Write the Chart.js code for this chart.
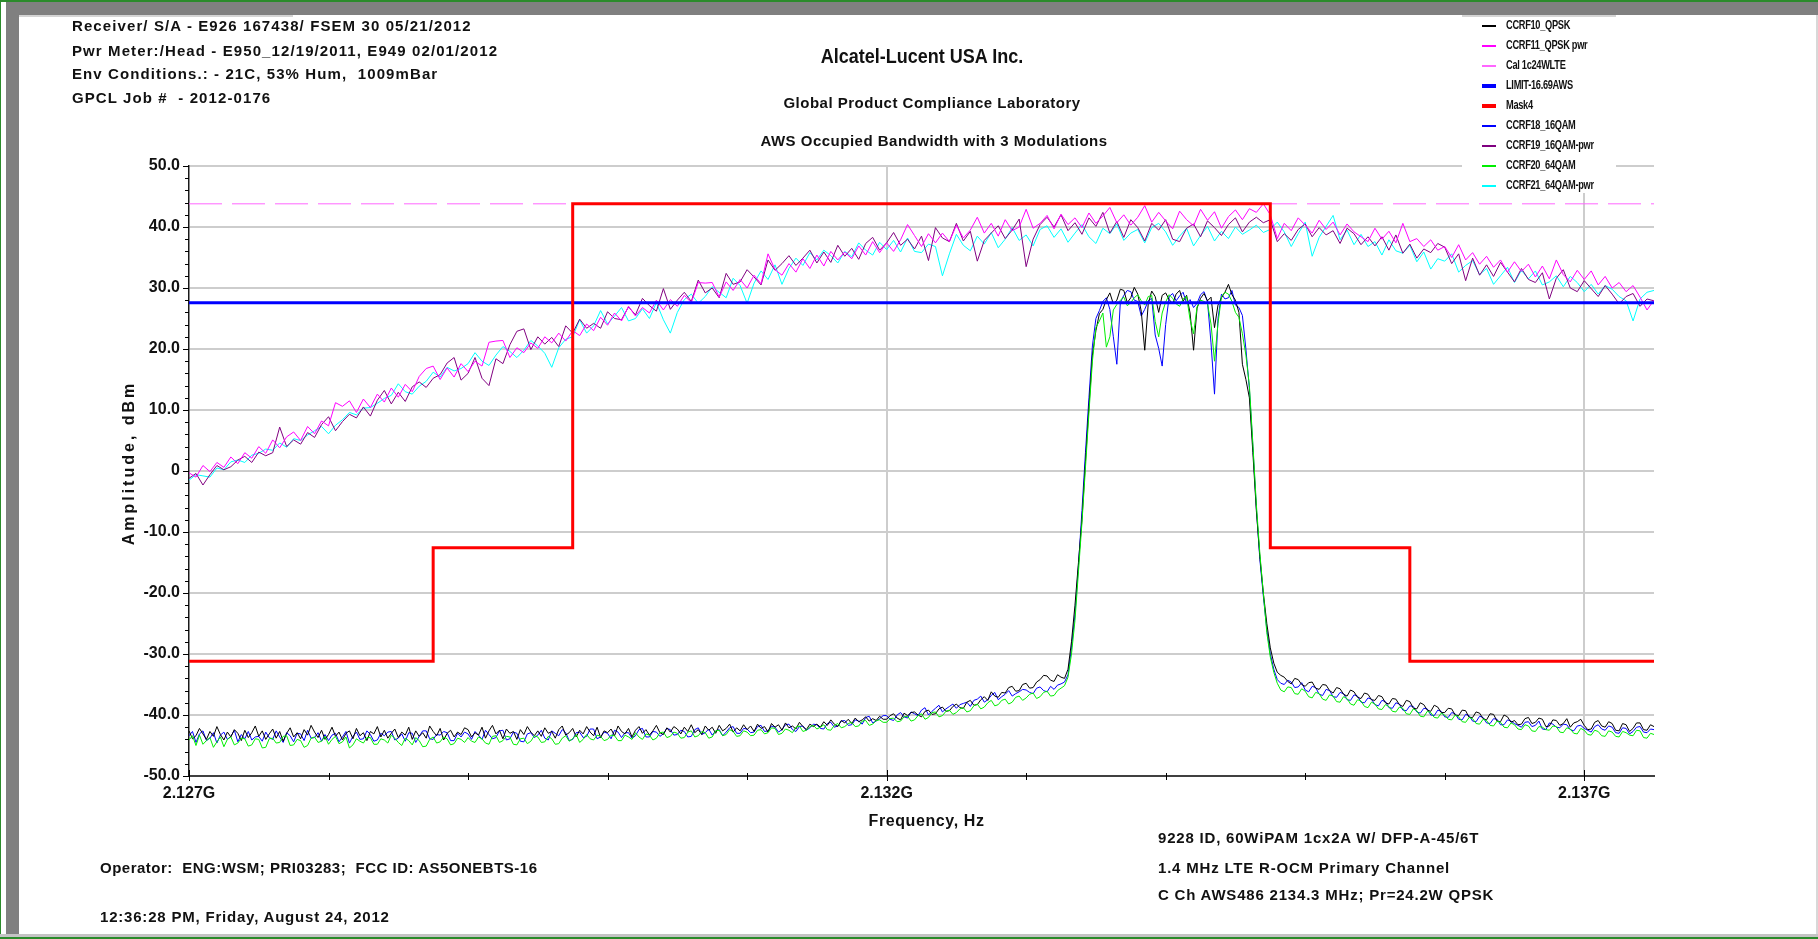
<!DOCTYPE html>
<html>
<head>
<meta charset="utf-8">
<script src="https://cdn.jsdelivr.net/npm/chart.js@4.4.1/dist/chart.umd.min.js"></script>
<style>
  html, body { margin: 0; padding: 0; background: #fff; }
  #page { position: relative; width: 1818px; height: 939px; overflow: hidden; background: #fff; }
  #plot { position: absolute; left: 0; top: 0; }
  .bar { position: absolute; }
  .txt { position: absolute; white-space: pre; line-height: 1; color: #111;
         font-family: "Liberation Sans", Arial, sans-serif; font-weight: bold; font-size: 15px; }
  .hdr { letter-spacing: 1.1px; }
  .ftr { letter-spacing: 0.8px; }
  .ctr { transform: translateX(-50%); letter-spacing: 0.5px; }
  .big { font-size: 20px; letter-spacing: 0; transform: translateX(-50%) scaleX(0.9); }
</style>
</head>
<body>
<div id="page">
  <canvas id="plot" width="1818" height="939"></canvas>

  <!-- window frame -->
  <div class="bar" style="left:0;top:0;width:1818px;height:2px;background:#2b8b2b"></div>
  <div class="bar" style="left:0;top:0;width:1px;height:939px;background:#2b8b2b"></div>
  <div class="bar" style="left:6px;top:2px;width:1812px;height:13px;background:#808080"></div>
  <div class="bar" style="left:6px;top:2px;width:13px;height:933px;background:#808080"></div>
  <div class="bar" style="left:19px;top:15px;width:274px;height:2px;background:#d4d4d4"></div>
  <div class="bar" style="left:1462px;top:15px;width:154px;height:2px;background:#d4d4d4"></div>
  <div class="bar" style="left:1816px;top:15px;width:2px;height:920px;background:#d8d8d8"></div>
  <div class="bar" style="left:0;top:934px;width:1818px;height:3px;background:#c4c4c4"></div>
  <div class="bar" style="left:0;top:937px;width:1818px;height:2px;background:#2b8b2b"></div>

  <!-- test set-up notes -->
  <div class="txt hdr" style="left:72px;top:18px">Receiver/ S/A - E926 167438/ FSEM 30 05/21/2012</div>
  <div class="txt hdr" style="left:72px;top:43px">Pwr Meter:/Head - E950_12/19/2011, E949 02/01/2012</div>
  <div class="txt hdr" style="left:72px;top:66px">Env Conditions.: - 21C, 53% Hum,  1009mBar</div>
  <div class="txt hdr" style="left:72px;top:90px">GPCL Job #  - 2012-0176</div>

  <div class="txt big" style="left:922px;top:46px">Alcatel-Lucent USA Inc.</div>
  <div class="txt ctr" style="left:932px;top:95px">Global Product Compliance Laboratory</div>
  <div class="txt ctr" style="left:934px;top:133px">AWS Occupied Bandwidth with 3 Modulations</div>

  <div class="txt ftr" style="left:1158px;top:830px">9228 ID, 60WiPAM 1cx2A W/ DFP-A-45/6T</div>
  <div class="txt ftr" style="left:1158px;top:860px">1.4 MHz LTE R-OCM Primary Channel</div>
  <div class="txt ftr" style="left:1158px;top:887px">C Ch AWS486 2134.3 MHz; Pr=24.2W QPSK</div>

  <div class="txt ftr" style="left:100px;top:860px;letter-spacing:0.5px">Operator:  ENG:WSM; PRI03283;  FCC ID: AS5ONEBTS-16</div>
  <div class="txt ftr" style="left:100px;top:909px">12:36:28 PM, Friday, August 24, 2012</div>
</div>

<script>
// Sweep grid (MHz)
const SWEEP_START_MHZ = 2127;
const SWEEP_STOP_MHZ = 2137.5;
const TRACE_STEP_MHZ = 0.025;
const POWER_STEP_MHZ = 0.05;

// Axis labelling
const xLabelFreqsMHz = [2127, 2132, 2137];
const xTickLabels = ['2.127G', '2.132G', '2.137G'];
const yMin = -50, yMax = 50, yMajorStep = 10, yMinorStep = 2;

// Spectrum traces, dBm, one value per TRACE_STEP_MHZ
const qpskTrace = [
  -42.6, -43.9, -43.4, -42.2, -43.1, -44.0, -42.7, -43.5, -41.9, -43.2, -44.1, -42.8, -43.6, -42.4, -43.0, -44.2, -42.5, -43.7, -42.9, -41.8,
  -43.5, -42.6, -44.0, -43.1, -42.3, -43.8, -42.7, -44.3, -43.0, -42.1, -43.6, -42.9, -43.9, -42.4, -43.3, -41.7, -42.8, -43.7, -42.5, -44.0,
  -43.2, -42.0, -43.5, -42.8, -44.1, -43.0, -42.6, -43.9, -42.2, -43.4, -42.9, -44.2, -42.7, -43.1, -41.9, -43.6, -42.5, -43.8, -43.0, -42.3,
  -43.7, -42.8, -43.3, -42.0, -44.0, -42.6, -43.5, -42.9, -43.8, -41.8, -42.7, -43.4, -42.2, -44.1, -43.0, -42.5, -43.6, -42.8, -43.2, -42.1,
  -42.4, -43.6, -42.9, -43.3, -42.0, -43.8, -42.6, -41.7, -43.1, -42.5, -43.9, -42.3, -43.0, -42.7, -44.0, -42.4, -43.2, -41.9, -42.8, -43.4,
  -42.6, -43.5, -42.1, -43.0, -42.7, -43.8, -42.4, -41.8, -43.3, -42.9, -42.2, -43.6, -42.5, -43.1, -41.9, -42.8, -43.4, -42.0, -43.7, -42.6,
  -42.9, -42.3, -43.4, -41.8, -42.7, -43.1, -42.2, -43.6, -42.5, -41.9, -43.0, -42.4, -43.3, -42.6, -41.7, -42.9, -43.2, -42.1, -42.8, -41.9,
  -42.3, -43.1, -42.0, -42.7, -41.6, -42.9, -42.4, -43.2, -41.8, -42.5, -42.0, -43.0, -41.7, -42.6, -42.2, -41.5, -42.8, -42.1, -42.6, -41.6,
  -42.4, -41.8, -42.7, -41.5, -42.2, -41.9, -42.8, -41.4, -42.0, -41.6, -42.5, -41.3, -42.1, -41.8, -42.3, -41.2, -41.9, -42.4, -41.5, -41.9,
  -41.5, -42.0, -41.1, -41.7, -40.8, -41.5, -41.9, -40.9, -41.3, -40.7, -41.4, -40.5, -41.1, -40.8, -40.3, -41.0, -40.6, -40.9, -40.2, -40.7,
  -40.7, -40.1, -39.8, -40.5, -40.8, -39.7, -40.1, -39.6, -39.5, -40.0, -40.3, -39.4, -39.2, -39.9, -39.8, -39.0, -38.7, -39.4, -39.3, -38.6,
  -38.2, -38.8, -38.9, -37.9, -37.6, -38.4, -38.3, -37.5, -37.0, -37.6, -36.2, -36.9, -37.1, -36.3, -36.4, -35.5, -35.3, -36.1, -36.0, -35.0,
  -34.8, -35.6, -35.5, -34.6, -34.2, -33.5, -33.6, -34.3, -34.5, -33.4, -33.8, -34.0, -32.5, -28.0, -22.0, -15.0, -8.0, 1.5, 10.5, 19.0,
  23.0, 25.8, 26.5, 28.1, 29.2, 27.4, 28.0, 29.8, 29.6, 27.6, 28.4, 30.1, 29.0, 26.2, 19.8, 27.4, 29.5, 28.6, 26.0, 28.8,
  29.2, 28.1, 27.4, 29.0, 29.6, 27.8, 28.8, 25.9, 19.8, 26.7, 28.3, 29.1, 27.9, 28.5, 23.5, 27.2, 28.4, 29.3, 30.6, 28.9,
  28.0, 26.0, 17.5, 15.0, 12.0, 3.0, -6.5, -14.0, -20.0, -25.0, -29.0, -31.5, -33.0, -33.5, -33.8, -34.5, -34.9, -34.0, -34.2, -35.0,
  -35.3, -34.7, -34.6, -35.6, -35.8, -35.0, -35.1, -36.0, -36.4, -35.5, -35.7, -36.6, -36.9, -35.9, -36.2, -37.1, -37.3, -36.4, -36.6, -37.5,
  -37.6, -36.8, -37.0, -38.0, -38.2, -37.3, -37.4, -38.3, -38.6, -37.6, -37.8, -38.9, -39.0, -38.0, -38.3, -39.2, -39.4, -38.4, -38.7, -39.6,
  -39.6, -38.9, -39.0, -40.0, -40.1, -39.2, -39.3, -40.4, -40.4, -39.5, -39.7, -40.6, -40.8, -39.8, -39.9, -41.0, -41.1, -40.0, -40.3, -41.2,
  -40.9, -41.6, -41.5, -40.6, -40.4, -41.4, -41.2, -40.5, -40.7, -41.9, -41.8, -40.8, -40.9, -41.7, -41.4, -40.6, -42.0, -41.3, -41.1, -40.7,
  -41.7, -42.4, -42.3, -41.2, -40.9, -41.8, -42.0, -41.1, -41.4, -42.5, -42.6, -41.4, -41.6, -42.7, -42.2, -41.3, -41.3, -42.4, -42.5, -41.6,
  -41.9
];

const qam16Trace = [
  -43.4, -42.7, -44.5, -43.1, -42.6, -44.2, -43.8, -42.9, -44.6, -43.3, -42.8, -44.0, -43.5, -42.5, -44.4, -43.2, -43.9, -42.7, -44.1, -43.6,
  -43.5, -44.3, -42.8, -43.7, -44.0, -42.6, -43.6, -44.5, -42.9, -43.4, -44.4, -43.0, -43.1, -44.2, -42.5, -43.8, -43.7, -42.9, -44.3, -43.2,
  -44.2, -43.3, -43.0, -44.4, -43.6, -42.7, -44.6, -43.5, -42.8, -44.0, -43.9, -42.6, -43.2, -44.3, -44.1, -43.0, -43.4, -42.8, -42.7, -44.1,
  -43.8, -43.1, -44.3, -42.9, -43.0, -44.5, -43.5, -42.6, -42.6, -43.9, -44.0, -43.2, -43.3, -42.7, -42.9, -44.2, -44.2, -43.0, -43.6, -42.8,
  -43.1, -44.0, -42.7, -43.3, -44.0, -42.5, -43.2, -43.9, -43.7, -42.6, -42.5, -44.1, -43.9, -42.8, -43.0, -44.3, -44.4, -43.1, -42.9, -43.7,
  -43.3, -42.5, -43.8, -44.1, -42.6, -43.0, -43.4, -42.4, -42.9, -44.2, -44.0, -42.9, -42.8, -43.7, -43.5, -42.3, -42.3, -43.9, -43.6, -42.8,
  -43.0, -43.9, -42.5, -42.8, -43.7, -42.9, -42.9, -43.8, -43.4, -42.4, -42.2, -43.6, -43.6, -42.7, -42.8, -43.5, -43.1, -42.2, -42.4, -43.3,
  -43.2, -42.5, -42.7, -43.6, -43.5, -42.4, -42.1, -43.2, -42.9, -42.3, -43.3, -42.6, -42.4, -43.4, -42.8, -42.1, -41.9, -43.0, -43.0, -42.2,
  -42.3, -42.9, -42.8, -41.9, -41.7, -42.7, -42.6, -41.8, -42.0, -42.8, -42.4, -41.6, -41.5, -42.4, -42.7, -41.9, -41.8, -42.5, -42.1, -41.5,
  -41.6, -42.2, -42.3, -41.4, -41.2, -42.0, -41.8, -41.0, -40.9, -41.7, -41.6, -40.8, -41.0, -41.5, -40.4, -40.2, -41.3, -41.0, -40.6, -40.1,
  -40.1, -40.7, -40.9, -40.0, -39.6, -40.3, -40.5, -39.5, -39.8, -40.1, -39.2, -38.8, -40.0, -39.4, -38.9, -38.4, -39.5, -39.0, -38.6, -38.2,
  -38.9, -38.3, -38.1, -37.9, -38.6, -37.6, -37.4, -36.9, -37.9, -37.5, -36.8, -36.3, -37.5, -37.0, -36.6, -36.0, -36.9, -36.5, -36.2, -35.8,
  -35.9, -36.3, -36.5, -35.6, -35.4, -36.0, -36.2, -35.3, -35.8, -35.1, -34.9, -34.6, -33.4, -29.0, -23.5, -15.5, -6.5, 3.0, 12.0, 20.5,
  25.0, 26.3, 27.8, 28.4, 26.5, 22.0, 17.5, 27.6, 28.8, 29.6, 29.4, 28.0, 27.8, 25.4, 26.5, 27.9, 28.3, 22.3, 20.1, 17.2,
  24.0, 28.6, 29.1, 27.9, 28.7, 29.3, 27.5, 28.1, 26.8, 27.5, 28.9, 29.4, 27.7, 21.0, 12.6, 25.0, 29.0, 28.2, 28.4, 29.6,
  27.2, 26.8, 25.5, 20.0, 13.5, 4.0, -6.0, -14.5, -20.5, -26.0, -30.0, -32.5, -34.2, -34.8, -35.0, -34.3, -34.6, -35.5, -35.4, -34.7,
  -35.9, -36.2, -35.3, -35.5, -36.6, -36.8, -35.8, -36.0, -37.0, -37.1, -36.3, -36.5, -37.5, -37.6, -36.7, -36.9, -37.9, -38.0, -37.2, -37.4,
  -38.3, -38.5, -37.6, -37.8, -38.8, -38.9, -38.0, -38.2, -39.2, -39.3, -38.5, -38.6, -39.5, -39.7, -38.9, -39.0, -40.0, -40.1, -39.2, -39.4,
  -40.3, -40.4, -39.6, -39.8, -40.7, -40.8, -39.9, -40.1, -41.0, -41.1, -40.2, -40.4, -41.3, -41.4, -40.6, -40.7, -41.6, -41.6, -40.8, -41.0,
  -41.4, -41.7, -42.0, -41.2, -41.1, -41.9, -41.7, -41.0, -42.3, -42.4, -41.3, -41.5, -42.0, -42.1, -41.5, -41.6, -42.4, -42.6, -41.8, -41.7,
  -42.2, -42.5, -42.8, -41.9, -41.6, -42.3, -42.5, -41.8, -42.0, -42.9, -43.0, -42.1, -42.2, -43.1, -42.7, -42.0, -41.9, -42.8, -42.9, -42.3,
  -42.4
];

const qam64Trace = [
  -44.1, -43.4, -45.0, -43.3, -44.8, -44.2, -43.7, -45.3, -44.4, -43.6, -45.2, -44.0, -43.6, -44.9, -44.6, -43.8, -43.9, -45.1, -44.9, -43.9,
  -44.0, -45.4, -45.3, -43.9, -43.8, -44.6, -44.5, -43.5, -43.4, -45.0, -44.9, -44.0, -44.2, -45.3, -45.0, -43.8, -43.6, -44.5, -44.3, -43.5,
  -44.8, -44.0, -43.5, -44.7, -44.4, -43.6, -45.4, -44.9, -43.9, -44.3, -44.6, -43.7, -43.7, -44.8, -44.8, -43.9, -44.1, -44.6, -43.3, -43.8,
  -44.5, -45.0, -43.8, -44.2, -44.9, -43.7, -44.2, -45.2, -45.1, -44.0, -43.6, -44.6, -44.4, -43.6, -43.9, -44.9, -44.7, -43.8, -44.0, -44.5,
  -43.7, -44.3, -44.5, -43.6, -43.9, -44.6, -44.8, -43.5, -43.4, -44.5, -44.2, -43.5, -43.6, -44.8, -44.9, -43.9, -43.8, -44.7, -44.3, -43.4,
  -43.6, -44.5, -44.4, -43.5, -43.9, -44.8, -44.7, -43.8, -43.4, -44.3, -43.9, -43.2, -44.5, -44.0, -43.2, -43.9, -44.1, -43.3, -43.5, -44.2,
  -44.0, -43.3, -43.4, -44.2, -44.2, -43.3, -43.6, -44.0, -42.9, -43.6, -44.0, -43.1, -43.3, -44.1, -43.8, -42.9, -42.8, -43.7, -43.5, -42.8,
  -43.0, -43.8, -43.7, -42.8, -42.6, -43.6, -43.4, -42.7, -42.9, -43.8, -43.6, -42.6, -42.5, -43.4, -43.2, -42.4, -42.7, -43.5, -43.4, -42.6,
  -42.8, -43.4, -43.3, -42.5, -42.4, -43.1, -42.9, -42.1, -42.2, -43.2, -43.0, -42.3, -42.5, -42.9, -42.0, -41.8, -42.7, -42.5, -41.9, -41.7,
  -42.3, -42.0, -41.6, -42.4, -42.5, -41.7, -41.4, -42.1, -41.9, -41.4, -41.2, -41.9, -41.8, -41.0, -40.9, -41.7, -41.5, -40.9, -40.8, -41.2,
  -41.2, -40.6, -40.5, -41.1, -41.0, -40.3, -40.2, -41.0, -40.8, -40.1, -39.8, -40.7, -40.4, -39.6, -39.5, -40.3, -40.1, -39.4, -39.2, -39.9,
  -39.6, -39.0, -38.8, -39.5, -39.3, -38.5, -38.2, -39.0, -38.7, -38.0, -37.6, -38.5, -38.3, -37.6, -37.4, -38.2, -37.9, -37.1, -36.9, -37.6,
  -37.2, -36.6, -36.4, -37.3, -37.0, -36.3, -36.1, -36.9, -36.8, -36.0, -35.6, -35.2, -33.8, -30.0, -24.5, -16.5, -8.5, 0.5, 9.5, 18.0,
  23.5, 24.6, 25.9, 20.3, 22.0, 26.4, 27.3, 28.0, 28.5, 27.1, 27.6, 28.4, 28.9, 27.9, 27.2, 28.6, 28.8, 24.5, 22.0, 25.9,
  27.7, 28.9, 28.3, 27.4, 27.0, 28.2, 28.6, 24.8, 22.5, 26.9, 28.0, 27.8, 27.4, 24.1, 18.0, 24.2, 28.6, 29.3, 29.0, 27.8,
  26.0, 25.2, 22.5, 19.0, 14.0, 4.5, -5.5, -13.5, -20.0, -26.5, -30.5, -33.0, -34.8, -35.9, -36.2, -35.4, -35.5, -36.5, -36.6, -35.7,
  -36.1, -37.0, -37.2, -36.3, -36.5, -37.4, -37.6, -36.7, -36.9, -37.8, -37.9, -37.0, -37.3, -38.2, -38.4, -37.5, -37.7, -38.6, -38.8, -37.9,
  -38.2, -39.0, -39.1, -38.3, -38.6, -39.4, -39.5, -38.7, -38.9, -39.8, -39.9, -39.0, -39.3, -40.2, -40.3, -39.4, -39.6, -40.4, -40.5, -39.7,
  -40.0, -40.7, -40.8, -40.0, -40.3, -41.1, -41.2, -40.4, -40.6, -41.4, -41.5, -40.7, -40.9, -41.7, -41.8, -41.0, -41.2, -42.0, -42.1, -41.3,
  -41.6, -42.3, -42.4, -41.6, -41.8, -42.6, -42.7, -41.9, -42.0, -42.4, -42.5, -41.8, -41.9, -42.8, -42.9, -42.1, -42.3, -43.0, -43.1, -42.2,
  -42.5, -43.2, -43.3, -42.5, -42.7, -43.4, -43.5, -42.6, -42.8, -43.5, -43.6, -42.7, -42.9, -43.3, -43.4, -42.5, -42.6, -43.7, -43.8, -43.0,
  -43.2
];

// Channel power traces, dBm, one value per POWER_STEP_MHZ
const qpskPwr = [
  -0.3, -1.0, 0.9, -0.1, 1.4, 0.6, 2.3, 1.2, 3.0, 2.1,
  4.0, 2.9, 5.1, 3.8, 5.6, 6.4, 5.0, 7.3, 6.1, 8.2,
  7.4, 11.2, 10.6, 11.5, 9.6, 11.8, 10.4, 12.6, 11.3, 13.6,
  12.1, 14.2, 13.0, 15.5, 16.8, 17.2, 15.0, 16.9, 15.4, 17.6,
  16.3, 18.0, 17.2, 21.1, 21.3, 21.4, 18.6, 20.2, 19.4, 21.0,
  20.1, 22.0, 21.0, 22.6, 21.3, 23.0, 22.2, 24.1, 23.0, 25.2,
  23.9, 25.9, 24.6, 27.0, 25.4, 26.8, 25.9, 28.0, 26.4, 28.1,
  27.0, 28.8, 27.6, 30.9, 30.8, 30.9, 28.5, 31.0, 29.6, 31.4,
  30.0, 32.1, 30.7, 35.6, 33.0, 32.1, 34.0, 32.6, 34.8, 33.2,
  35.4, 33.6, 36.0, 34.6, 35.9, 34.8, 36.9, 35.4, 37.6, 35.8,
  37.4, 36.0, 37.9, 40.4, 38.6, 36.8, 38.9, 37.4, 39.0, 37.6,
  40.3, 38.2, 39.5, 41.6, 39.0, 40.6, 38.5, 41.2, 39.4, 40.0,
  42.9, 39.8, 40.6, 41.9, 39.7, 42.1, 40.4, 41.5, 39.9, 42.3,
  40.6, 41.8, 43.2, 40.7, 42.0, 40.3, 41.6, 43.5, 40.8, 42.4,
  41.0, 39.7, 42.6, 41.2, 40.2, 42.9, 41.1, 42.5, 39.8, 41.7,
  42.8, 41.2, 43.0, 42.4, 43.8, 42.0, 38.1, 40.6, 39.4, 41.5,
  40.3, 39.0, 41.1, 39.6, 40.8, 38.7, 40.5, 39.2, 38.4, 37.6,
  39.8, 38.0, 39.3, 37.4, 40.6, 37.6, 38.1, 36.8, 37.9, 36.2,
  36.8, 35.0, 37.1, 34.6, 35.8, 33.9, 35.2, 33.4, 34.6, 32.6,
  34.3, 32.7, 33.9, 31.8, 33.6, 31.5, 34.6, 32.2, 31.0, 32.9,
  31.4, 32.8, 30.5, 31.9, 30.0, 30.9, 29.4, 30.4, 28.5, 26.4,
  28.0
];

const qam16Pwr = [
  -1.2, -0.4, -2.3, -0.6, 0.9, 0.2, 0.7, 1.8, 2.4, 1.4,
  3.1, 2.5, 3.0, 7.2, 4.0, 5.1, 4.4, 6.3, 5.5, 7.6,
  8.9, 6.6, 8.1, 9.3, 8.7, 10.5, 9.0, 11.6, 13.2, 11.0,
  12.9, 11.4, 13.8, 14.6, 13.7, 15.2, 15.8, 17.7, 18.6, 14.9,
  16.0, 18.6, 15.2, 14.0, 18.4, 17.6, 20.7, 22.9, 23.3, 19.9,
  22.0, 20.8, 21.9, 20.4, 23.8, 22.6, 24.9, 23.4, 24.2, 23.4,
  26.1, 25.0, 24.8, 26.9, 25.6, 28.3, 27.1, 26.2, 29.9, 26.5,
  28.0, 29.3, 27.8, 31.3, 29.2, 30.0, 28.4, 32.4, 30.6, 31.0,
  33.0, 31.8, 30.5, 34.6, 32.9, 34.0, 35.3, 33.7, 34.9, 36.2,
  34.1, 35.9, 34.2, 37.0, 35.2, 36.5, 34.7, 37.3, 38.3, 36.2,
  37.4, 39.1, 37.0, 38.0, 36.4, 38.5, 34.5, 39.9, 38.2, 37.6,
  40.6, 37.7, 39.3, 34.4, 37.8, 39.0, 40.2, 38.1, 39.5, 41.3,
  33.5, 38.0, 40.4, 41.6, 40.0, 42.0, 39.4, 40.7, 38.8, 41.5,
  40.1, 42.4, 39.0, 40.9, 38.3, 41.2, 39.9, 37.7, 40.6, 39.5,
  41.2, 38.0, 37.6, 39.8, 40.5, 38.4, 41.0, 39.9, 38.6, 40.4,
  41.5, 39.2, 40.8, 41.6, 40.7, 41.2, 37.6, 38.9, 37.8, 39.6,
  40.5, 38.4, 39.9, 38.7, 39.4, 37.3, 39.8, 38.9, 37.1, 38.4,
  36.9, 38.4, 36.2, 38.7, 35.7, 37.2, 34.9, 36.4, 35.8, 37.3,
  36.7, 34.0, 35.6, 31.2, 34.9, 32.1, 33.8, 31.9, 34.2, 32.6,
  31.0, 33.2, 31.4, 30.9, 32.5, 28.2, 31.6, 33.0, 30.0, 29.4,
  31.2, 29.9, 28.6, 30.4, 29.0, 27.4, 28.6, 29.1, 27.0, 28.2,
  27.9
];

const qam64Pwr = [
  -1.5, -0.6, -0.8, -1.0, 0.5, 0.2, 1.5, 1.8, 1.4, 2.6,
  2.9, 3.6, 3.4, 4.6, 3.9, 5.3, 5.0, 5.9, 6.6, 7.3,
  6.1, 7.5, 8.4, 9.6, 9.2, 10.3, 10.4, 11.1, 11.9, 12.4,
  14.3, 13.0, 12.6, 13.9, 14.7, 16.2, 15.4, 17.0, 16.4, 16.8,
  17.6, 19.4, 18.0, 17.3, 19.0, 20.4, 19.6, 18.6, 19.8, 21.4,
  20.5, 19.3, 17.0, 20.2, 21.6, 22.0, 24.8, 22.6, 23.8, 26.3,
  24.1, 25.4, 26.8, 24.6, 25.0, 26.6, 25.0, 27.6, 24.8, 22.6,
  26.0, 28.1, 29.0, 27.5, 28.6, 30.2, 29.3, 28.4, 31.6, 30.4,
  27.5, 30.8, 32.8, 31.4, 33.8, 30.6, 33.2, 34.9, 33.7, 35.8,
  34.6, 36.2, 35.3, 34.1, 36.0, 35.1, 37.4, 36.2, 35.4, 37.5,
  36.3, 37.8, 35.9, 38.2, 36.0, 35.8, 37.2, 36.8, 32.0, 35.6,
  38.8, 37.0, 36.1, 38.5, 37.2, 39.1, 36.6, 38.0, 39.9, 37.8,
  38.7, 36.9, 39.6, 40.2, 38.3, 39.7, 37.5, 39.0, 40.4, 38.4,
  37.3, 39.8, 38.9, 40.5, 37.8, 39.0, 39.6, 37.4, 39.9, 40.6,
  39.2, 37.0, 38.5, 39.8, 36.9, 38.6, 40.1, 37.7, 39.3, 38.1,
  40.0, 38.8, 39.5, 40.3, 39.1, 39.6, 40.8, 39.2, 36.8, 38.9,
  40.8, 35.2, 38.3, 40.1, 41.9, 37.9, 39.5, 37.1, 38.8, 36.8,
  37.6, 35.4, 37.9, 36.1, 35.7, 37.0, 34.3, 35.9, 33.1, 34.8,
  34.4, 35.6, 32.6, 33.7, 34.5, 32.2, 33.2, 30.6, 32.0, 33.4,
  30.9, 32.9, 31.5, 32.8, 30.5, 31.0, 32.0, 30.2, 31.9, 30.9,
  29.4, 30.6, 29.0, 30.4, 29.8, 28.6, 27.9, 24.6, 28.2, 29.3,
  29.6
];

// Emission mask corners and flat reference levels
const maskFreqMHz   = [2127, 2128.75, 2128.75, 2129.75, 2129.75, 2134.75, 2134.75, 2135.75, 2135.75, 2137.5];
const maskLevelDbm  = [-31.2, -31.2, -12.6, -12.6, 43.8, 43.8, -12.6, -12.6, -31.2, -31.2];
const limitLevelDbm = 27.6;
const calLevelDbm   = 43.8;

function sweepPoints(values, step) {
  return values.map((v, i) => ({ x: SWEEP_START_MHZ + i * step, y: v }));
}
function flatPoints(level) {
  return [{ x: SWEEP_START_MHZ, y: level }, { x: SWEEP_STOP_MHZ, y: level }];
}

const FONT = '"Liberation Sans", Arial, sans-serif';

const datasets = [
  { label: 'CCRF10_QPSK',      data: sweepPoints(qpskTrace, TRACE_STEP_MHZ),  borderColor: '#000000', borderWidth: 1, order: 3, keyWidth: 2 },
  { label: 'CCRF11_QPSK pwr',  data: sweepPoints(qpskPwr, POWER_STEP_MHZ),    borderColor: '#ff00ff', borderWidth: 1, order: 6, keyWidth: 2 },
  { label: 'Cal 1c24WLTE',     data: flatPoints(calLevelDbm),                 borderColor: '#ff66ff', borderWidth: 1, order: 9, keyWidth: 2, borderDash: [33, 10] },
  { label: 'LIMIT-16.69AWS',   data: flatPoints(limitLevelDbm),               borderColor: '#0000ff', borderWidth: 3, order: 1, keyWidth: 4 },
  { label: 'Mask4',            data: maskFreqMHz.map((f, i) => ({ x: f, y: maskLevelDbm[i] })), borderColor: '#ff0000', borderWidth: 3, order: 0, keyWidth: 4 },
  { label: 'CCRF18_16QAM',     data: sweepPoints(qam16Trace, TRACE_STEP_MHZ), borderColor: '#0000ff', borderWidth: 1, order: 4, keyWidth: 2 },
  { label: 'CCRF19_16QAM-pwr', data: sweepPoints(qam16Pwr, POWER_STEP_MHZ),   borderColor: '#800080', borderWidth: 1, order: 7, keyWidth: 2 },
  { label: 'CCRF20_64QAM',     data: sweepPoints(qam64Trace, TRACE_STEP_MHZ), borderColor: '#00ee00', borderWidth: 1, order: 2, keyWidth: 2 },
  { label: 'CCRF21_64QAM-pwr', data: sweepPoints(qam64Pwr, POWER_STEP_MHZ),   borderColor: '#00ffff', borderWidth: 1, order: 8, keyWidth: 2 }
];

// Tick marks, axis titles and the key box
const decorations = {
  id: 'decorations',
  afterDraw(chart) {
    const { ctx, chartArea: ca, scales: { x, y } } = chart;
    ctx.save();

    ctx.strokeStyle = '#000';
    ctx.lineWidth = 1;
    ctx.beginPath();
    y.ticks.forEach(t => {
      const py = Math.round(y.getPixelForValue(t.value)) + 0.5;
      const major = t.value % yMajorStep === 0;
      ctx.moveTo(ca.left - (major ? 6 : 4), py);
      ctx.lineTo(ca.left, py);
    });
    x.ticks.forEach(t => {
      if (!Number.isInteger(t.value)) return;
      const px = Math.round(x.getPixelForValue(t.value)) + 0.5;
      const major = xLabelFreqsMHz.includes(t.value);
      ctx.moveTo(px, ca.bottom - (major ? 6 : 3));
      ctx.lineTo(px, ca.bottom + (major ? 5 : 4));
    });
    ctx.stroke();

    // axis titles
    ctx.fillStyle = '#111';
    ctx.textAlign = 'center';
    ctx.textBaseline = 'middle';
    ctx.font = 'bold 16px ' + FONT;
    ctx.letterSpacing = '0.6px';
    ctx.fillText('Frequency, Hz', (ca.left + ca.right) / 2 + 5, 822);
    ctx.save();
    ctx.translate(130, (ca.top + ca.bottom) / 2 - 8);
    ctx.rotate(-Math.PI / 2);
    ctx.letterSpacing = '3px';
    ctx.fillText('Amplitude, dBm', 0, 0);
    ctx.restore();

    // key box
    const box = { left: 1462, top: 15, right: 1616, bottom: 193 };
    ctx.fillStyle = '#fff';
    ctx.fillRect(box.left, box.top, box.right - box.left, box.bottom - box.top);
    ctx.font = 'bold 12.5px ' + FONT;
    ctx.letterSpacing = '-0.4px';
    ctx.textAlign = 'left';
    ctx.textBaseline = 'middle';
    chart.data.datasets.forEach((ds, i) => {
      const ry = 26 + i * 20;
      ctx.setLineDash([]);
      ctx.strokeStyle = ds.borderColor;
      ctx.lineWidth = ds.keyWidth;
      ctx.beginPath();
      ctx.moveTo(1482, ry);
      ctx.lineTo(1496, ry);
      ctx.stroke();
      ctx.save();
      ctx.translate(1506, ry);
      ctx.scale(0.74, 1);
      ctx.fillStyle = '#111';
      ctx.fillText(ds.label, 0, 0);
      ctx.restore();
    });
    ctx.restore();
  }
};

new Chart(document.getElementById('plot'), {
  type: 'line',
  data: { datasets },
  plugins: [decorations],
  options: {
    responsive: false,
    animation: false,
    devicePixelRatio: 1,
    datasets: { line: { pointRadius: 0, tension: 0, fill: false } },
    layout: { padding: { left: 0, top: 166, right: 164, bottom: 0 } },
    plugins: { legend: { display: false }, tooltip: { enabled: false }, title: { display: false } },
    scales: {
      x: {
        type: 'linear',
        min: SWEEP_START_MHZ,
        max: SWEEP_STOP_MHZ,
        afterFit: s => { s.height = 163; },
        border: { display: true, color: '#404040', width: 2 },
        grid: {
          drawTicks: false,
          lineWidth: 2,
          color: c => (c.tick && (c.tick.value === 2132 || c.tick.value === 2137)) ? '#cdcdcd' : 'rgba(0,0,0,0)'
        },
        ticks: {
          stepSize: 1,
          includeBounds: false,
          autoSkip: false,
          maxRotation: 0,
          padding: 8,
          color: '#111',
          font: { family: FONT, size: 16, weight: 'bold' },
          callback: v => {
            const k = xLabelFreqsMHz.indexOf(v);
            return k >= 0 ? xTickLabels[k] : '';
          }
        }
      },
      y: {
        type: 'linear',
        min: yMin,
        max: yMax,
        afterFit: s => { s.width = 189; },
        border: { display: true, color: '#1a1a1a', width: 1.5 },
        grid: {
          drawTicks: false,
          lineWidth: 2,
          color: c => (c.tick && c.tick.value % yMajorStep === 0 && c.tick.value !== yMin) ? '#cdcdcd' : 'rgba(0,0,0,0)'
        },
        ticks: {
          stepSize: yMinorStep,
          autoSkip: false,
          padding: 9,
          color: '#111',
          font: { family: FONT, size: 16, weight: 'bold' },
          callback: v => (v % yMajorStep === 0) ? (v === 0 ? '0' : v.toFixed(1)) : ''
        }
      }
    }
  }
});
</script>
</body>
</html>
